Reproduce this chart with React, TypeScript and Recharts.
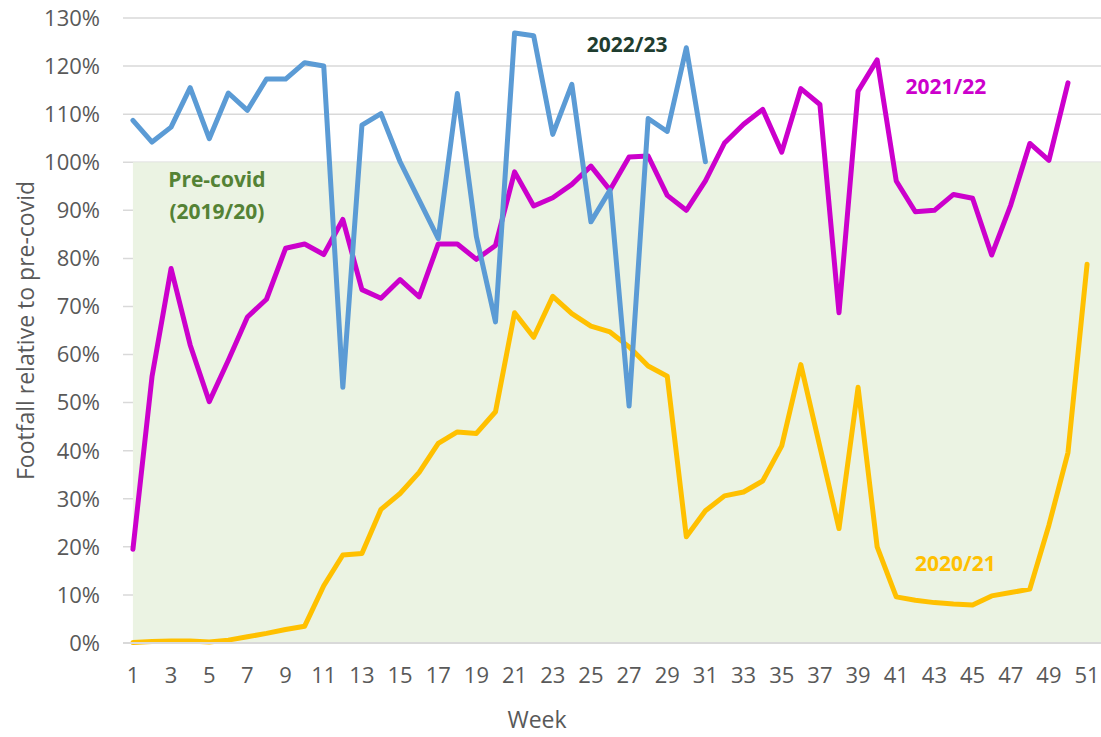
import React from 'react'
import {
  LineChart,
  Line,
  XAxis,
  YAxis,
  CartesianGrid,
  ReferenceArea,
  ReferenceDot,
  Label,
} from 'recharts'

// weeks shown on the category axis
const weeks = Array.from({ length: 51 }, (_, i) => i + 1)
const weekTicks = [1, 3, 5, 7, 9, 11, 13, 15, 17, 19, 21, 23, 25, 27, 29, 31, 33, 35, 37, 39, 41, 43, 45, 47, 49, 51]
const pctTicks = [0, 10, 20, 30, 40, 50, 60, 70, 80, 90, 100, 110, 120, 130]

// footfall relative to pre-covid (%)
const y2022_23 = [
  108.7, 104.2, 107.3, 115.5, 104.9, 114.4, 110.8, 117.3, 117.3, 120.7,
  120.0, 53.2, 107.7, 110.1, 100.1, 92.1, 84.1, 114.3, 84.5, 66.8,
  126.9, 126.3, 105.8, 116.2, 87.6, 94.2, 49.3, 109.1, 106.4, 123.8,
  100.1,
]
const y2021_22 = [
  19.5, 55.4, 77.9, 62.0, 50.2, 58.8, 67.8, 71.5, 82.1, 83.0,
  80.8, 88.1, 73.5, 71.7, 75.6, 72.0, 83.0, 83.0, 79.8, 82.7,
  98.0, 90.9, 92.6, 95.4, 99.2, 94.2, 101.1, 101.3, 93.1, 90.0,
  96.1, 104.0, 107.9, 111.0, 102.1, 115.3, 112.0, 68.7, 114.8, 121.3,
  96.1, 89.7, 90.0, 93.3, 92.5, 80.7, 91.1, 103.9, 100.4, 116.5,
]
const y2020_21 = [
  0.1, 0.3, 0.4, 0.4, 0.2, 0.6, 1.3, 2.0, 2.8, 3.5,
  11.9, 18.3, 18.6, 27.8, 31.1, 35.5, 41.5, 43.9, 43.6, 48.1,
  68.7, 63.6, 72.1, 68.5, 65.9, 64.7, 61.6, 57.6, 55.5, 22.1,
  27.5, 30.6, 31.4, 33.7, 41.0, 57.9, 40.8, 23.8, 53.2, 20.0,
  9.6, 8.9, 8.4, 8.1, 7.9, 9.8, 10.5, 11.2, 24.5, 39.6,
  78.8,
]

const precovidLevel = 100

const data = weeks.map((w, i) => ({
  week: w,
  y2022: y2022_23[i] ?? null,
  y2021: y2021_22[i] ?? null,
  y2020: y2020_21[i] ?? null,
}))

const X_DOMAIN: [number, number] = [0.48, 51.73]

const FONT = 'Open Sans'
const AXIS_GREY = '#595959'
const noteStyle = { fontSize: 21, fontWeight: 700, fontFamily: FONT }

function WeekTick({ x, y, payload }: any) {
  return (
    <text x={x} y={y} dy="0.71em" textAnchor="middle" fill={AXIS_GREY} fontSize={22} fontFamily={FONT}>
      {payload.value}
    </text>
  )
}

function PctTick({ x, y, payload }: any) {
  return (
    <text x={x} y={y} dy="0.355em" textAnchor="end" fill={AXIS_GREY} fontSize={22} fontFamily={FONT}>
      {`${payload.value}%`}
    </text>
  )
}

export default function App() {
  return (
    <div style={{ position: 'absolute', left: 0, top: 0 }}>
      <LineChart
        width={1101}
        height={737}
        data={data}
        margin={{ top: 18, right: 0, bottom: 0, left: 0 }}
      >
        <ReferenceArea
          x1={1}
          x2={X_DOMAIN[1]}
          y1={0}
          y2={precovidLevel}
          fill="#ebf3e3"
          fillOpacity={1}
          stroke="none"
        />
        <CartesianGrid vertical={false} stroke="#d9d9d9" strokeWidth={1.5} />
        <XAxis
          dataKey="week"
          type="number"
          domain={X_DOMAIN}
          ticks={weekTicks}
          allowDataOverflow
          height={94}
          tick={<WeekTick />}
          tickLine={false}
          tickSize={0}
          tickMargin={24}
          axisLine={{ stroke: '#d9d9d9', strokeWidth: 2 }}
        >
          <Label
            value="Week"
            position="insideBottom"
            offset={9}
            dx={-75}
            style={{ fill: AXIS_GREY, fontSize: 23, fontFamily: FONT }}
          />
        </XAxis>
        <YAxis
          domain={[0, 130]}
          ticks={pctTicks}
          width={123}
          tick={<PctTick />}
          tickLine={false}
          tickSize={0}
          tickMargin={23}
          axisLine={false}
        >
          <Label
            value="Footfall relative to pre-covid"
            angle={-90}
            position="center"
            dx={-36}
            style={{ fill: AXIS_GREY, fontSize: 23, fontFamily: FONT }}
          />
        </YAxis>

        <Line
          dataKey="y2020"
          stroke="#ffc000"
          strokeWidth={5}
          dot={false}
          strokeLinejoin="round"
          strokeLinecap="round"
          isAnimationActive={false}
        />
        <Line
          dataKey="y2021"
          stroke="#cc00cc"
          strokeWidth={5}
          dot={false}
          strokeLinejoin="round"
          strokeLinecap="round"
          isAnimationActive={false}
        />
        <Line
          dataKey="y2022"
          stroke="#5b9bd5"
          strokeWidth={5}
          dot={false}
          strokeLinejoin="round"
          strokeLinecap="round"
          isAnimationActive={false}
        />

        <ReferenceDot x={5.4} y={96.3} r={1} fill="none" stroke="none"
          label={{ value: 'Pre-covid', position: 'center', fill: '#548235', ...noteStyle }} />
        <ReferenceDot x={5.4} y={89.8} r={1} fill="none" stroke="none"
          label={{ value: '(2019/20)', position: 'center', fill: '#548235', ...noteStyle }} />
        <ReferenceDot x={26.9} y={124.5} r={1} fill="none" stroke="none"
          label={{ value: '2022/23', position: 'center', fill: '#1f3d30', ...noteStyle }} />
        <ReferenceDot x={43.6} y={115.8} r={1} fill="none" stroke="none"
          label={{ value: '2021/22', position: 'center', fill: '#cc00cc', ...noteStyle }} />
        <ReferenceDot x={44.1} y={16.6} r={1} fill="none" stroke="none"
          label={{ value: '2020/21', position: 'center', fill: '#ffc000', ...noteStyle }} />
      </LineChart>
    </div>
  )
}
